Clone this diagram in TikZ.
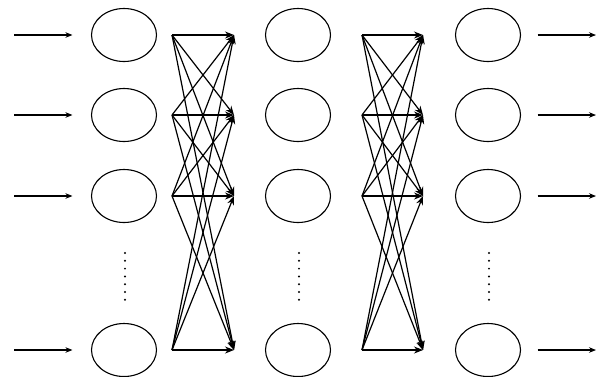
\documentclass[tikz,border=0pt]{standalone}
\usetikzlibrary{shapes.geometric,arrows.meta}
\begin{document}
\begin{tikzpicture}[x=1pt,y=-1pt,
  neuron/.style={draw, ellipse, line width=1.1pt, minimum width=65pt, minimum height=53pt, inner sep=0pt},
  feed/.style={line width=1.1pt, -{Stealth[length=7pt,width=5.5pt]}},
  link/.style={line width=1.2pt, -{Stealth[length=9pt,width=7pt]}},
  vdot/.style={fill, circle, inner sep=0pt, minimum size=2.2pt}]
\useasboundingbox (0,0) rectangle (596,376);
% three layers of neurons
\foreach \c/\x in {1/124, 2/298, 3/488}{
  \foreach \r/\y in {1/35, 2/115, 3/196, 4/350}{
    \node[neuron] (n\c\r) at (\x,\y) {};
  }
  \foreach \k in {0,...,6}{
    \node[vdot] (d\c\k) at (\x+1, 253+7.8*\k) {};
  }
}
% input and output arrows
\foreach \r/\y in {1/35, 2/115, 3/196, 4/350}{
  \coordinate (in\r) at (14,\y);
  \coordinate (out\r) at (596,\y);
  \draw[feed, shorten >=18.5pt] (in\r) -- (n1\r.west);
  \draw[feed, shorten <=16.5pt] (n3\r.east) -- (out\r);
}
% fully connected bundles between the layers
\foreach \b/\xs/\xt in {1/172/234, 2/362/423}{
  \foreach \r/\y in {1/35, 2/115, 3/196, 4/350}{
    \coordinate (s\b\r) at (\xs,\y);
    \coordinate (t\b\r) at (\xt,\y);
  }
  \foreach \i in {1,...,4}{
    \foreach \j in {1,...,4}{
      \draw[link] (s\b\i) -- (t\b\j);
    }
  }
}
\end{tikzpicture}
\end{document}
